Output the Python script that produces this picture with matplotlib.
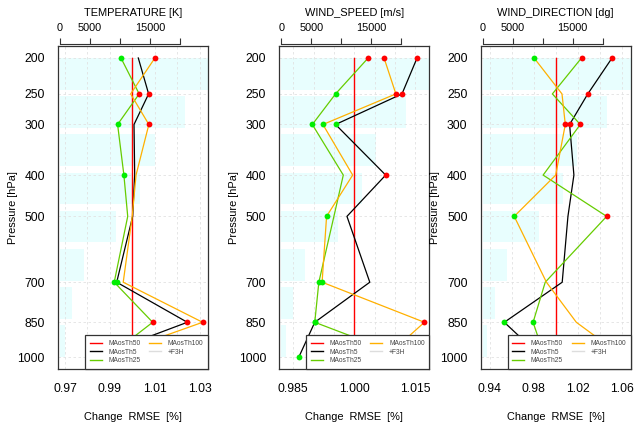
import numpy as np
import matplotlib
matplotlib.use('Agg')
import matplotlib.pyplot as plt
from matplotlib.lines import Line2D

plt.rcParams['font.family'] = ['Liberation Sans', 'DejaVu Sans']

# ---------------- data ----------------
levels = [200, 250, 300, 400, 500, 700, 850, 1000]
level_labels = ['200', '250', '300', '400', '500', '700', '850', '1000']
obs_counts = [27000, 20800, 15800, 13400, 9400, 4000, 2000, 800]
count_ticks = [0, 5000, 10000, 15000, 20000]
count_labels = ['0', '5000', '', '15000', '']

series_names = ['MAosTh50', 'MAosTh5', 'MAosTh25', 'MAosTh100', '+F3H']
series_colors = ['#ff0000', '#000000', '#66cc00', '#ffb000', '#dddddd']

# TEMPERATURE
t_th50 = [1, 1, 1, 1, 1, 1, 1, 1]
t_th5 = [1.0026, 1.0072, 1.0007, 1.0010, 1.0001, 0.9930, 1.0244, 0.9833]
t_th25 = [0.9949, 1.0030, 0.9934, 0.9962, 0.9979, 0.9919, 1.0090, 0.9890]
t_th100 = [1.0100, 0.9992, 1.0073, 1.0016, 0.9999, 0.9959, 1.0312, 0.9878]
t_th5_sig = [0, 1, 0, 0, 0, -1, 1, 0]
t_th25_sig = [-1, 1, -1, -1, 0, -1, 1, 0]
t_th100_sig = [1, 0, 1, 0, 0, 0, 1, 0]

# WIND_SPEED
ws_th50 = [1, 1, 1, 1, 1, 1, 1, 1]
ws_th5 = [1.0154, 1.0117, 0.9954, 1.0077, 0.9982, 1.0038, 0.9903, 0.9864]
ws_th25 = [1.0034, 0.9954, 0.9897, 0.9973, 0.9950, 0.9913, 0.9903, 1.0127]
ws_th100 = [1.0073, 1.0102, 0.9923, 0.9996, 0.9932, 0.9921, 1.0172, 1.0077]
ws_th5_sig = [1, 1, -1, 1, 0, 0, -1, -1]
ws_th25_sig = [1, -1, -1, 0, 0, -1, -1, 0]
ws_th100_sig = [1, 1, -1, 0, -1, -1, 1, 0]

# WIND_DIRECTION
wd_th50 = [1, 1, 1, 1, 1, 1, 1, 1]
wd_th5 = [1.0511, 1.0291, 1.0126, 1.0165, 1.0111, 1.0059, 0.9534, 0.9871]
wd_th25 = [1.0234, 0.9970, 1.0223, 0.9886, 1.0462, 0.9905, 0.9795, 0.9901]
wd_th100 = [0.9804, 1.0057, 1.0087, 1.0000, 0.9624, 0.9916, 1.0187, 1.0615]
wd_th5_sig = [1, 1, 1, 0, 0, 0, -1, 0]
wd_th25_sig = [1, 0, 1, 0, 1, 0, -1, 0]
wd_th100_sig = [-1, 0, 1, 0, -1, 0, 0, 0]

titles = ['TEMPERATURE [K]', 'WIND_SPEED [m/s]', 'WIND_DIRECTION [dg]']
xlims = [(0.9669, 1.0336), (0.9816, 1.0184), (0.932, 1.068)]
xticks = [[0.97, 0.99, 1.01, 1.03], [0.985, 1.000, 1.015], [0.94, 0.98, 1.02, 1.06]]
xticklabels = [['0.97', '0.99', '1.01', '1.03'], ['0.985', '1.000', '1.015'],
               ['0.94', '0.98', '1.02', '1.06']]
xgrid_step = [0.01, 0.005, 0.02]

panels = [
    dict(th50=t_th50, series=[(t_th5, t_th5_sig, 1), (t_th25, t_th25_sig, 2), (t_th100, t_th100_sig, 3)]),
    dict(th50=ws_th50, series=[(ws_th5, ws_th5_sig, 1), (ws_th25, ws_th25_sig, 2), (ws_th100, ws_th100_sig, 3)]),
    dict(th50=wd_th50, series=[(wd_th5, wd_th5_sig, 1), (wd_th25, wd_th25_sig, 2), (wd_th100, wd_th100_sig, 3)]),
]

# ---------------- layout ----------------
W, H = 635, 422
fig = plt.figure(figsize=(W / 100, H / 100), dpi=100)
lefts_px = [58, 279.3, 480.7]
width_px = 150
top_px, bot_px = 46, 369

def fwd(p):
    p = np.asarray(p, dtype=float)
    return np.sign(p) * np.abs(p) ** 0.2

def inv(t):
    t = np.asarray(t, dtype=float)
    return np.sign(t) * np.abs(t) ** 5

t_lo, t_hi = 200 ** 0.2, 1000 ** 0.2
pad = 0.04 * (t_hi - t_lo)
ylim_p = ((t_hi + pad) ** 5, (t_lo - pad) ** 5)

n = len(levels)
bar_centers = [0.7 + 1.2 * i for i in range(n)]
bar_ylim = (0.2 + 1.2 * (n - 1) + 1.0 + 0.04 * (1.2 * n - 0.2), 0.2 - 0.04 * (1.2 * n - 0.2))

fs_tick = 8.7
fs_lab = 7.9

for k, pnl in enumerate(panels):
    pos = [lefts_px[k] / W, 1 - bot_px / H, width_px / W, (bot_px - top_px) / H]

    # observation-count bars with top axis
    axb = fig.add_axes(pos)
    axb.barh(bar_centers, obs_counts, height=1.0, left=0, color='#e8fefe', edgecolor='none')
    axb.set_xlim(-333, 24667)
    axb.set_ylim(*bar_ylim)
    for s in ['left', 'right', 'bottom']:
        axb.spines[s].set_visible(False)
    axb.spines['top'].set_position(('outward', 1.5))
    axb.spines['top'].set_bounds(0, 20000)
    axb.spines['top'].set_linewidth(0.8)
    axb.spines['top'].set_color('#333333')
    axb.xaxis.tick_top()
    axb.set_xticks(count_ticks)
    axb.set_xticklabels(count_labels, fontsize=7.8)
    axb.tick_params(axis='x', direction='out', length=4, width=0.8, pad=4, color='#333333')
    axb.set_yticks([])
    axb.set_facecolor('white')

    # main axes
    ax = fig.add_axes(pos)
    ax.patch.set_visible(False)
    ax.set_yscale('function', functions=(fwd, inv))
    ax.set_ylim(*ylim_p)
    ax.set_xlim(*xlims[k])
    ax.set_yticks(levels)
    ax.set_yticklabels(level_labels, fontsize=fs_tick)
    ax.yaxis.set_minor_locator(matplotlib.ticker.NullLocator())
    ax.set_xticks(xticks[k])
    ax.set_xticklabels(xticklabels[k], fontsize=fs_tick)
    step = xgrid_step[k]
    g = np.arange(xticks[k][0], xticks[k][-1] + step / 2, step)
    ax.set_xticks(g, minor=True)
    ax.tick_params(axis='both', which='both', length=0)
    ax.tick_params(axis='y', pad=9.5)
    ax.tick_params(axis='x', pad=10)
    ax.grid(True, which='both', axis='x', color='#e2e2e2', linestyle=(0, (3, 3)), linewidth=0.6)
    ax.grid(True, which='major', axis='y', color='#e2e2e2', linestyle=(0, (3, 3)), linewidth=0.6)
    for s in ax.spines.values():
        s.set_color('#333333')
        s.set_linewidth(0.9)

    # reference line (MAosTh50)
    ax.plot(pnl['th50'], levels, color=series_colors[0], lw=1.0, zorder=3)
    for vals, sig, ci in pnl['series']:
        ax.plot(vals, levels, color=series_colors[ci], lw=0.9, zorder=4)
    for vals, sig, ci in pnl['series']:
        for v, p, s in zip(vals, levels, sig):
            if s != 0:
                ax.plot([v], [p], 'o', ms=4.2, mec='none',
                        color='#ff0000' if s > 0 else '#00ee00', zorder=5)

    ax.text(0.5, 1 + (top_px - 13.5) / (bot_px - top_px), titles[k], transform=ax.transAxes,
            ha='center', va='center', fontsize=fs_lab)
    ax.text(-45.3 / width_px, 0.5, 'Pressure [hPa]', transform=ax.transAxes, rotation=90,
            ha='center', va='center', fontsize=fs_lab)
    ax.text(0.5, -(419.5 - bot_px) / (bot_px - top_px), 'Change  RMSE  [%]', transform=ax.transAxes,
            ha='center', va='baseline', fontsize=fs_lab)

    handles = [Line2D([], [], color=c, lw=1.0) for c in series_colors]
    leg = ax.legend(handles, series_names, loc='lower right', ncol=2, fontsize=4.8,
                    frameon=True, fancybox=False, framealpha=1, edgecolor='#333333',
                    borderaxespad=0, borderpad=0.7, labelspacing=0.25, handlelength=1.8,
                    handletextpad=1.0, columnspacing=1.3, labelcolor='#444444')
    leg.get_frame().set_linewidth(0.9)
    leg.set_zorder(10)

fig.savefig('out.png', dpi=100)
